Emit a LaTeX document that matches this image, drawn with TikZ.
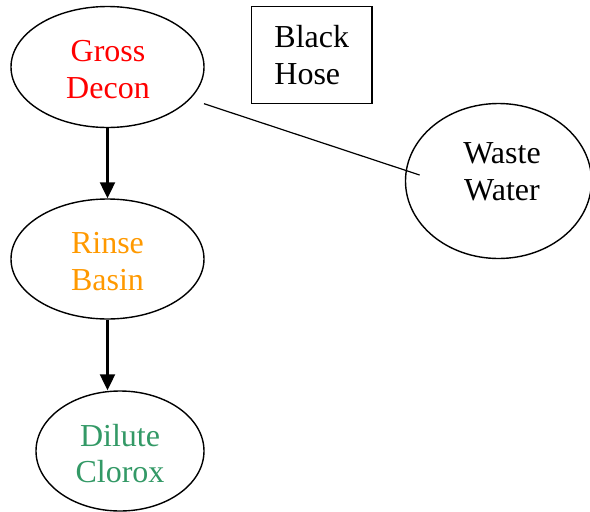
\documentclass[tikz,border=0pt]{standalone}
\usepackage{fontspec}
\setmainfont{Liberation Serif}
\usetikzlibrary{shapes.geometric,arrows.meta,calc}
\definecolor{rinseorange}{RGB}{255,153,0}
\definecolor{clorox}{RGB}{51,153,102}
\tikzset{
  ell/.style={draw,ellipse,line width=1.4pt,inner sep=0pt},
  lbl/.style={align=center,inner sep=0pt,font=\fontsize{32}{36.7}\selectfont},
  boxnode/.style={draw,rectangle,line width=1.4pt,inner sep=0pt,align=left,
    minimum width=120.5pt,minimum height=97pt,font=\fontsize{32}{36.7}\selectfont},
  flow/.style={line width=2.2pt,-{Triangle[length=16pt,width=15pt]}},
  link/.style={line width=1.2pt}
}
\begin{document}
\begin{tikzpicture}[x=1pt,y=-1pt]
\useasboundingbox (0,0) rectangle (590,512);
% ellipses
\node[ell,minimum width=193pt,minimum height=121pt] (gd) at (107.5,67) {};
\node[ell,minimum width=193pt,minimum height=120pt] (rb) at (107.5,259) {};
\node[ell,minimum width=168pt,minimum height=120pt] (dc) at (120,451) {};
\node[ell,minimum width=186pt,minimum height=155pt] (ww) at (498.5,181) {};
% texts
\node[lbl,text=red] (gdt) at ($(gd.center)+(0.5,2.3)$) {Gross\\Decon};
\node[lbl,text=rinseorange] (rbt) at ($(rb.center)+(0,2.6)$) {Rinse\\Basin};
\node[lbl,text=clorox] (dct) at ($(dc.center)+(0,2.6)$) {Dilute\\Clorox};
\node[lbl] (wwt) at ($(ww.center)+(3.5,-9.4)$) {Waste\\Water};
% box
\node[boxnode] (bh) at (311.75,55.2) {Black\\Hose};
% connectors
\draw[flow] (gd.south) -- (rb.north);
\draw[flow] (rb.south) -- (rb.south |- dc.north);
\coordinate (la) at ($(gd.center)+(96.5,36.7)$);
\coordinate (lb) at ($(ww.center)+(-78.9,-6)$);
\draw[link] (la) -- (lb);
\end{tikzpicture}
\end{document}
